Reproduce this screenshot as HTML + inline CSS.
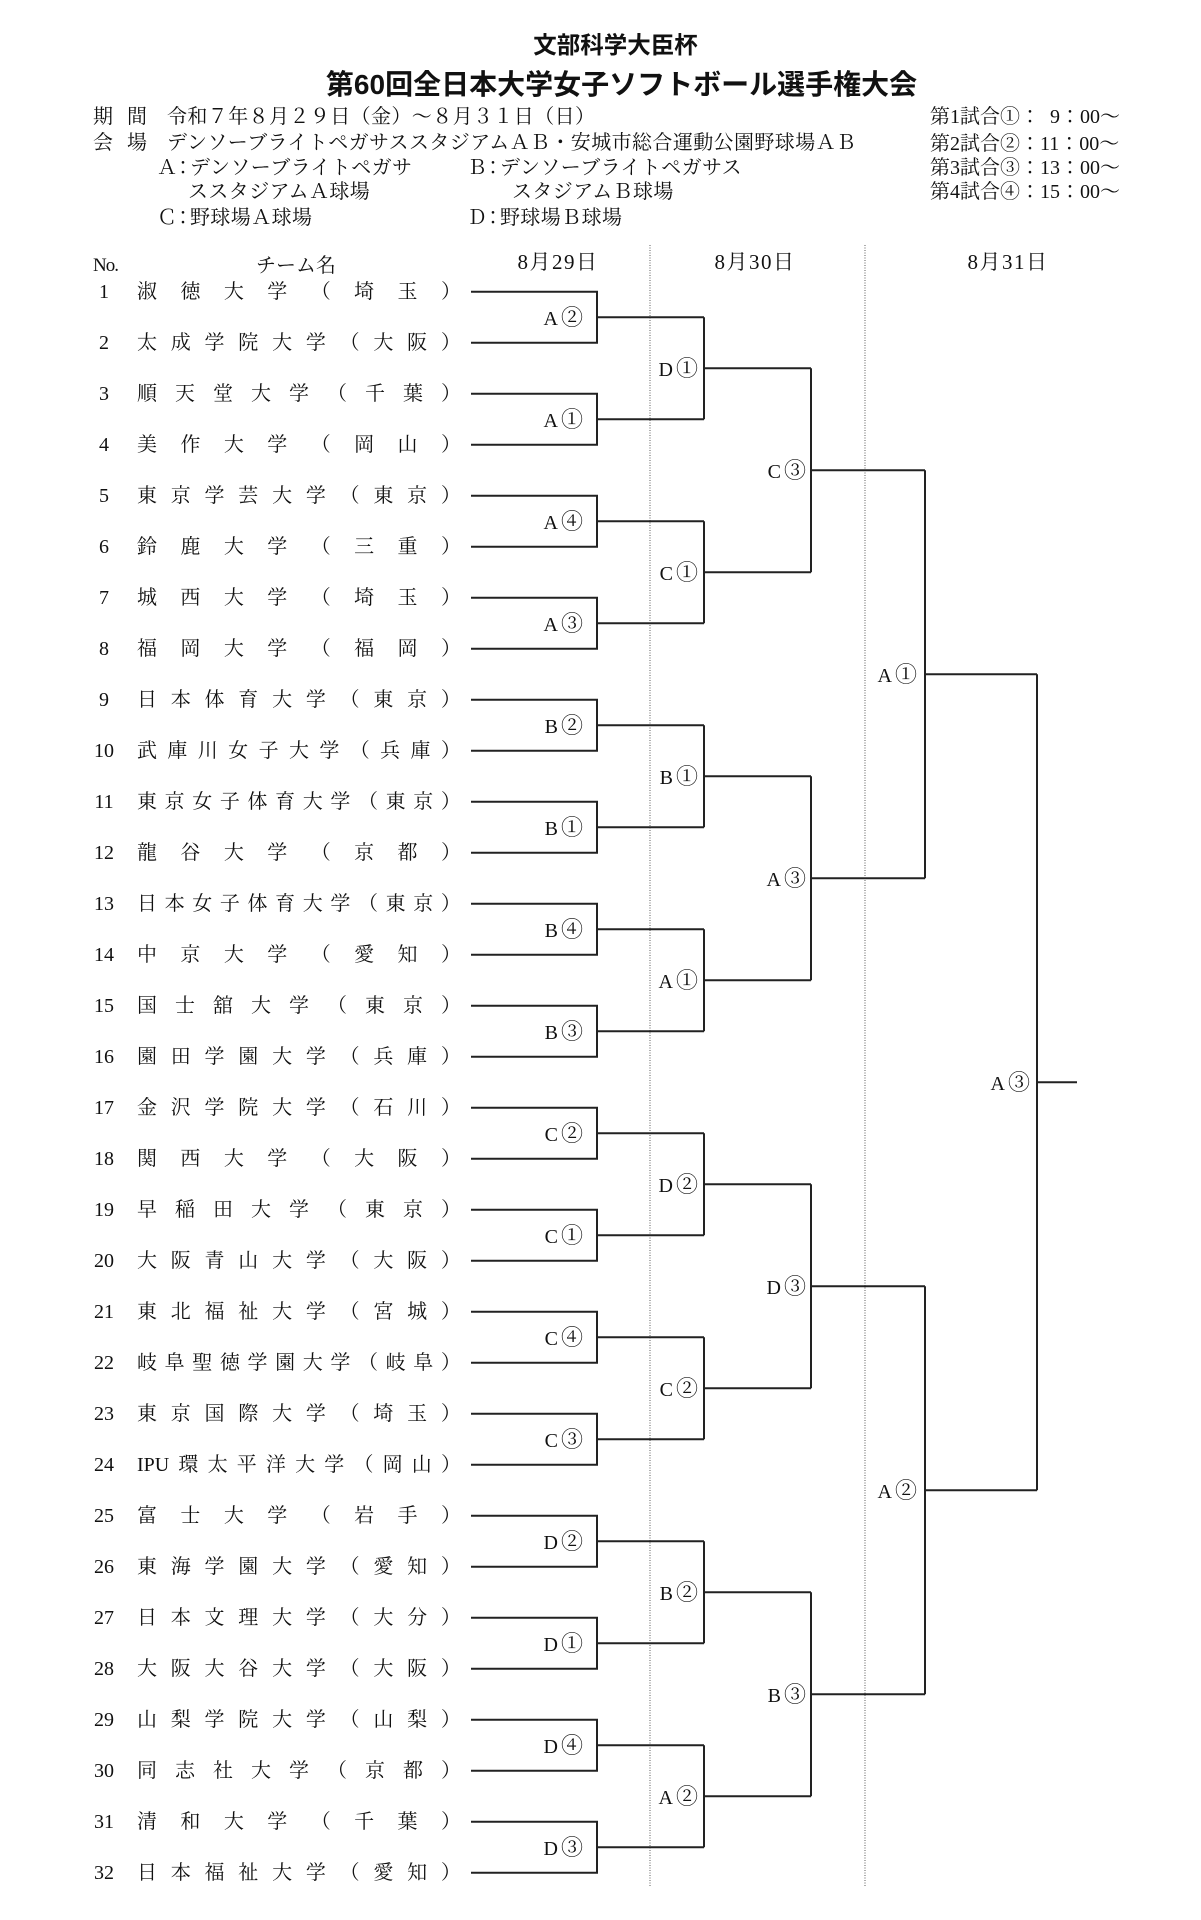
<!DOCTYPE html>
<html lang="ja">
<head>
<meta charset="utf-8">
<style>
  html,body{margin:0;padding:0;background:#fff;}
  body{width:1201px;height:1920px;position:relative;overflow:hidden;}
  .t{position:absolute;height:20px;line-height:20px;font-size:20px;white-space:nowrap;
     font-family:"Liberation Serif","Noto Serif CJK SC",serif;color:#111;}
  .g{position:absolute;white-space:nowrap;text-align:center;width:1201px;
     font-family:"Liberation Sans","Noto Sans CJK JP",sans-serif;font-weight:bold;color:#111;}
  .ls{letter-spacing:0.4px;}
  .n{position:absolute;left:74px;width:60px;text-align:center;height:20px;line-height:20px;font-size:20px;
     font-family:"Liberation Serif","Noto Serif CJK SC",serif;color:#111;}
  .nm{position:absolute;left:137px;width:324px;height:20px;line-height:20px;font-size:20px;display:flex;
      justify-content:space-between;font-family:"Liberation Serif","Noto Serif CJK SC",serif;color:#111;white-space:nowrap;}
  .nm span{display:block;}
  .lb{position:absolute;width:80px;text-align:right;height:20px;line-height:20px;font-size:20px;white-space:nowrap;
      font-family:"Liberation Serif","Noto Serif CJK SC",serif;color:#111;}
  .lb .c{font-family:"Noto Serif CJK SC",serif;font-size:22px;margin-left:3px;}
  .dh{position:absolute;width:120px;text-align:center;height:22px;line-height:22px;font-size:21px;letter-spacing:1.5px;
      font-family:"Liberation Serif","Noto Serif CJK SC",serif;color:#111;white-space:nowrap;}
</style>
</head>
<body>

<!-- Titles -->
<div class="g" style="left:15px;top:31px;font-size:23.5px;line-height:28px;height:28px;">文部科学大臣杯</div>
<div class="g" style="left:21px;top:68px;font-size:28px;line-height:34px;height:34px;">第60回全日本大学女子ソフトボール選手権大会</div>

<!-- Info -->
<div class="t" style="left:93px;top:107px;">期</div>
<div class="t" style="left:127px;top:107px;">間</div>
<div class="t ls" style="left:167px;top:107px;">令和７年８月２９日（金）～８月３１日（日）</div>

<div class="t" style="left:93px;top:133px;">会</div>
<div class="t" style="left:127px;top:133px;">場</div>
<div class="t ls" style="left:167px;top:133px;">デンソーブライトペガサススタジアムＡＢ・安城市総合運動公園野球場ＡＢ</div>

<div class="t ls" style="left:157px;top:158px;"><span style="letter-spacing:-4px">Ａ</span><span style="letter-spacing:-3px">：</span>デンソーブライトペガサ</div>
<div class="t ls" style="left:467px;top:158px;"><span style="letter-spacing:-4px">Ｂ</span><span style="letter-spacing:-3px">：</span>デンソーブライトペガサス</div>
<div class="t ls" style="left:188px;top:182px;">ススタジアムＡ球場</div>
<div class="t ls" style="left:512px;top:182px;">スタジアムＢ球場</div>
<div class="t ls" style="left:157px;top:208px;"><span style="letter-spacing:-4px">Ｃ</span><span style="letter-spacing:-3px">：</span>野球場Ａ球場</div>
<div class="t ls" style="left:467px;top:208px;"><span style="letter-spacing:-4px">Ｄ</span><span style="letter-spacing:-3px">：</span>野球場Ｂ球場</div>

<div class="t" style="left:930px;top:107px;">第1試合①：&#8194;9：00～</div>
<div class="t" style="left:930px;top:134px;">第2試合②：11：00～</div>
<div class="t" style="left:930px;top:158px;">第3試合③：13：00～</div>
<div class="t" style="left:930px;top:182px;">第4試合④：15：00～</div>

<!-- Column headers -->
<div class="t" style="left:93px;top:256px;font-size:19px;letter-spacing:-1px;">No.</div>
<div class="t" style="left:256px;top:256px;">チーム名</div>
<div class="dh" style="left:498px;top:251px;">8月29日</div>
<div class="dh" style="left:695px;top:251px;">8月30日</div>
<div class="dh" style="left:948px;top:251px;">8月31日</div>

<!-- Bracket lines -->
<svg width="1201" height="1920" style="position:absolute;left:0;top:0;" xmlns="http://www.w3.org/2000/svg">
  <line x1="650" y1="245" x2="650" y2="1886" stroke="#777" stroke-width="1.2" stroke-dasharray="1 1.5"/>
  <line x1="865" y1="245" x2="865" y2="1886" stroke="#777" stroke-width="1.2" stroke-dasharray="1 1.5"/>
  <path fill="none" stroke="#222" stroke-width="2" d="
M471 291.7H597V342.7H471 M597 317.2H704
M471 393.7H597V444.7H471 M597 419.2H704
M471 495.7H597V546.7H471 M597 521.2H704
M471 597.7H597V648.7H471 M597 623.2H704
M471 699.7H597V750.7H471 M597 725.2H704
M471 801.7H597V852.7H471 M597 827.2H704
M471 903.7H597V954.7H471 M597 929.2H704
M471 1005.7H597V1056.7H471 M597 1031.2H704
M471 1107.7H597V1158.7H471 M597 1133.2H704
M471 1209.7H597V1260.7H471 M597 1235.2H704
M471 1311.7H597V1362.7H471 M597 1337.2H704
M471 1413.7H597V1464.7H471 M597 1439.2H704
M471 1515.7H597V1566.7H471 M597 1541.2H704
M471 1617.7H597V1668.7H471 M597 1643.2H704
M471 1719.7H597V1770.7H471 M597 1745.2H704
M471 1821.7H597V1872.7H471 M597 1847.2H704
M704 317.2V419.2 M704 368.2H811
M704 521.2V623.2 M704 572.2H811
M704 725.2V827.2 M704 776.2H811
M704 929.2V1031.2 M704 980.2H811
M704 1133.2V1235.2 M704 1184.2H811
M704 1337.2V1439.2 M704 1388.2H811
M704 1541.2V1643.2 M704 1592.2H811
M704 1745.2V1847.2 M704 1796.2H811
M811 368.2V572.2 M811 470.2H925
M811 776.2V980.2 M811 878.2H925
M811 1184.2V1388.2 M811 1286.2H925
M811 1592.2V1796.2 M811 1694.2H925
M925 470.2V878.2 M925 674.2H1037
M925 1286.2V1694.2 M925 1490.2H1037
M1037 674.2V1490.2 M1037 1082.2H1077
"/>
</svg>

<!-- Round labels: R1 right edge 583 -->
<div class="lb" style="left:503px;top:307.2px;">A<span class="c">②</span></div>
<div class="lb" style="left:503px;top:409.2px;">A<span class="c">①</span></div>
<div class="lb" style="left:503px;top:511.2px;">A<span class="c">④</span></div>
<div class="lb" style="left:503px;top:613.2px;">A<span class="c">③</span></div>
<div class="lb" style="left:503px;top:715.2px;">B<span class="c">②</span></div>
<div class="lb" style="left:503px;top:817.2px;">B<span class="c">①</span></div>
<div class="lb" style="left:503px;top:919.2px;">B<span class="c">④</span></div>
<div class="lb" style="left:503px;top:1021.2px;">B<span class="c">③</span></div>
<div class="lb" style="left:503px;top:1123.2px;">C<span class="c">②</span></div>
<div class="lb" style="left:503px;top:1225.2px;">C<span class="c">①</span></div>
<div class="lb" style="left:503px;top:1327.2px;">C<span class="c">④</span></div>
<div class="lb" style="left:503px;top:1429.2px;">C<span class="c">③</span></div>
<div class="lb" style="left:503px;top:1531.2px;">D<span class="c">②</span></div>
<div class="lb" style="left:503px;top:1633.2px;">D<span class="c">①</span></div>
<div class="lb" style="left:503px;top:1735.2px;">D<span class="c">④</span></div>
<div class="lb" style="left:503px;top:1837.2px;">D<span class="c">③</span></div>
<!-- R2 right edge 698 -->
<div class="lb" style="left:618px;top:358.2px;">D<span class="c">①</span></div>
<div class="lb" style="left:618px;top:562.2px;">C<span class="c">①</span></div>
<div class="lb" style="left:618px;top:766.2px;">B<span class="c">①</span></div>
<div class="lb" style="left:618px;top:970.2px;">A<span class="c">①</span></div>
<div class="lb" style="left:618px;top:1174.2px;">D<span class="c">②</span></div>
<div class="lb" style="left:618px;top:1378.2px;">C<span class="c">②</span></div>
<div class="lb" style="left:618px;top:1582.2px;">B<span class="c">②</span></div>
<div class="lb" style="left:618px;top:1786.2px;">A<span class="c">②</span></div>
<!-- R3 right edge 806 -->
<div class="lb" style="left:726px;top:460.2px;">C<span class="c">③</span></div>
<div class="lb" style="left:726px;top:868.2px;">A<span class="c">③</span></div>
<div class="lb" style="left:726px;top:1276.2px;">D<span class="c">③</span></div>
<div class="lb" style="left:726px;top:1684.2px;">B<span class="c">③</span></div>
<!-- R4 right edge 917 -->
<div class="lb" style="left:837px;top:664.2px;">A<span class="c">①</span></div>
<div class="lb" style="left:837px;top:1480.2px;">A<span class="c">②</span></div>
<!-- Final right edge 1030 -->
<div class="lb" style="left:950px;top:1072.2px;">A<span class="c">③</span></div>

<!-- Teams -->
<div class="n" style="top:281.7px;">1</div>
<div class="nm" style="top:281.7px;"><span>淑</span><span>徳</span><span>大</span><span>学</span><span>（</span><span>埼</span><span>玉</span><span>）</span></div>
<div class="n" style="top:332.7px;">2</div>
<div class="nm" style="top:332.7px;"><span>太</span><span>成</span><span>学</span><span>院</span><span>大</span><span>学</span><span>（</span><span>大</span><span>阪</span><span>）</span></div>
<div class="n" style="top:383.7px;">3</div>
<div class="nm" style="top:383.7px;"><span>順</span><span>天</span><span>堂</span><span>大</span><span>学</span><span>（</span><span>千</span><span>葉</span><span>）</span></div>
<div class="n" style="top:434.7px;">4</div>
<div class="nm" style="top:434.7px;"><span>美</span><span>作</span><span>大</span><span>学</span><span>（</span><span>岡</span><span>山</span><span>）</span></div>
<div class="n" style="top:485.7px;">5</div>
<div class="nm" style="top:485.7px;"><span>東</span><span>京</span><span>学</span><span>芸</span><span>大</span><span>学</span><span>（</span><span>東</span><span>京</span><span>）</span></div>
<div class="n" style="top:536.7px;">6</div>
<div class="nm" style="top:536.7px;"><span>鈴</span><span>鹿</span><span>大</span><span>学</span><span>（</span><span>三</span><span>重</span><span>）</span></div>
<div class="n" style="top:587.7px;">7</div>
<div class="nm" style="top:587.7px;"><span>城</span><span>西</span><span>大</span><span>学</span><span>（</span><span>埼</span><span>玉</span><span>）</span></div>
<div class="n" style="top:638.7px;">8</div>
<div class="nm" style="top:638.7px;"><span>福</span><span>岡</span><span>大</span><span>学</span><span>（</span><span>福</span><span>岡</span><span>）</span></div>
<div class="n" style="top:689.7px;">9</div>
<div class="nm" style="top:689.7px;"><span>日</span><span>本</span><span>体</span><span>育</span><span>大</span><span>学</span><span>（</span><span>東</span><span>京</span><span>）</span></div>
<div class="n" style="top:740.7px;">10</div>
<div class="nm" style="top:740.7px;"><span>武</span><span>庫</span><span>川</span><span>女</span><span>子</span><span>大</span><span>学</span><span>（</span><span>兵</span><span>庫</span><span>）</span></div>
<div class="n" style="top:791.7px;">11</div>
<div class="nm" style="top:791.7px;"><span>東</span><span>京</span><span>女</span><span>子</span><span>体</span><span>育</span><span>大</span><span>学</span><span>（</span><span>東</span><span>京</span><span>）</span></div>
<div class="n" style="top:842.7px;">12</div>
<div class="nm" style="top:842.7px;"><span>龍</span><span>谷</span><span>大</span><span>学</span><span>（</span><span>京</span><span>都</span><span>）</span></div>
<div class="n" style="top:893.7px;">13</div>
<div class="nm" style="top:893.7px;"><span>日</span><span>本</span><span>女</span><span>子</span><span>体</span><span>育</span><span>大</span><span>学</span><span>（</span><span>東</span><span>京</span><span>）</span></div>
<div class="n" style="top:944.7px;">14</div>
<div class="nm" style="top:944.7px;"><span>中</span><span>京</span><span>大</span><span>学</span><span>（</span><span>愛</span><span>知</span><span>）</span></div>
<div class="n" style="top:995.7px;">15</div>
<div class="nm" style="top:995.7px;"><span>国</span><span>士</span><span>舘</span><span>大</span><span>学</span><span>（</span><span>東</span><span>京</span><span>）</span></div>
<div class="n" style="top:1046.7px;">16</div>
<div class="nm" style="top:1046.7px;"><span>園</span><span>田</span><span>学</span><span>園</span><span>大</span><span>学</span><span>（</span><span>兵</span><span>庫</span><span>）</span></div>
<div class="n" style="top:1097.7px;">17</div>
<div class="nm" style="top:1097.7px;"><span>金</span><span>沢</span><span>学</span><span>院</span><span>大</span><span>学</span><span>（</span><span>石</span><span>川</span><span>）</span></div>
<div class="n" style="top:1148.7px;">18</div>
<div class="nm" style="top:1148.7px;"><span>関</span><span>西</span><span>大</span><span>学</span><span>（</span><span>大</span><span>阪</span><span>）</span></div>
<div class="n" style="top:1199.7px;">19</div>
<div class="nm" style="top:1199.7px;"><span>早</span><span>稲</span><span>田</span><span>大</span><span>学</span><span>（</span><span>東</span><span>京</span><span>）</span></div>
<div class="n" style="top:1250.7px;">20</div>
<div class="nm" style="top:1250.7px;"><span>大</span><span>阪</span><span>青</span><span>山</span><span>大</span><span>学</span><span>（</span><span>大</span><span>阪</span><span>）</span></div>
<div class="n" style="top:1301.7px;">21</div>
<div class="nm" style="top:1301.7px;"><span>東</span><span>北</span><span>福</span><span>祉</span><span>大</span><span>学</span><span>（</span><span>宮</span><span>城</span><span>）</span></div>
<div class="n" style="top:1352.7px;">22</div>
<div class="nm" style="top:1352.7px;"><span>岐</span><span>阜</span><span>聖</span><span>徳</span><span>学</span><span>園</span><span>大</span><span>学</span><span>（</span><span>岐</span><span>阜</span><span>）</span></div>
<div class="n" style="top:1403.7px;">23</div>
<div class="nm" style="top:1403.7px;"><span>東</span><span>京</span><span>国</span><span>際</span><span>大</span><span>学</span><span>（</span><span>埼</span><span>玉</span><span>）</span></div>
<div class="n" style="top:1454.7px;">24</div>
<div class="nm" style="top:1454.7px;"><span>IPU</span><span>環</span><span>太</span><span>平</span><span>洋</span><span>大</span><span>学</span><span>（</span><span>岡</span><span>山</span><span>）</span></div>
<div class="n" style="top:1505.7px;">25</div>
<div class="nm" style="top:1505.7px;"><span>富</span><span>士</span><span>大</span><span>学</span><span>（</span><span>岩</span><span>手</span><span>）</span></div>
<div class="n" style="top:1556.7px;">26</div>
<div class="nm" style="top:1556.7px;"><span>東</span><span>海</span><span>学</span><span>園</span><span>大</span><span>学</span><span>（</span><span>愛</span><span>知</span><span>）</span></div>
<div class="n" style="top:1607.7px;">27</div>
<div class="nm" style="top:1607.7px;"><span>日</span><span>本</span><span>文</span><span>理</span><span>大</span><span>学</span><span>（</span><span>大</span><span>分</span><span>）</span></div>
<div class="n" style="top:1658.7px;">28</div>
<div class="nm" style="top:1658.7px;"><span>大</span><span>阪</span><span>大</span><span>谷</span><span>大</span><span>学</span><span>（</span><span>大</span><span>阪</span><span>）</span></div>
<div class="n" style="top:1709.7px;">29</div>
<div class="nm" style="top:1709.7px;"><span>山</span><span>梨</span><span>学</span><span>院</span><span>大</span><span>学</span><span>（</span><span>山</span><span>梨</span><span>）</span></div>
<div class="n" style="top:1760.7px;">30</div>
<div class="nm" style="top:1760.7px;"><span>同</span><span>志</span><span>社</span><span>大</span><span>学</span><span>（</span><span>京</span><span>都</span><span>）</span></div>
<div class="n" style="top:1811.7px;">31</div>
<div class="nm" style="top:1811.7px;"><span>清</span><span>和</span><span>大</span><span>学</span><span>（</span><span>千</span><span>葉</span><span>）</span></div>
<div class="n" style="top:1862.7px;">32</div>
<div class="nm" style="top:1862.7px;"><span>日</span><span>本</span><span>福</span><span>祉</span><span>大</span><span>学</span><span>（</span><span>愛</span><span>知</span><span>）</span></div>

</body>
</html>
